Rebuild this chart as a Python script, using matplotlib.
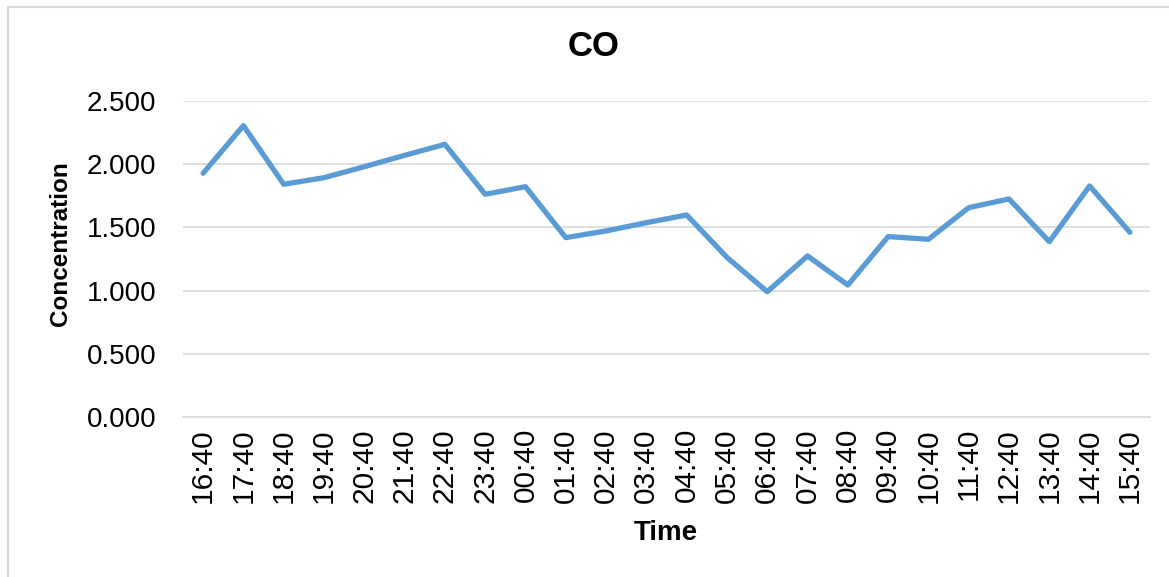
import matplotlib.pyplot as plt
from matplotlib.lines import Line2D

plt.rcParams['font.family'] = ['Liberation Sans', 'DejaVu Sans']

times = ['16:40', '17:40', '18:40', '19:40', '20:40', '21:40', '22:40', '23:40',
         '00:40', '01:40', '02:40', '03:40', '04:40', '05:40', '06:40', '07:40',
         '08:40', '09:40', '10:40', '11:40', '12:40', '13:40', '14:40', '15:40']
co = [1.928, 2.305, 1.841, 1.893, 1.980, 2.070, 2.157, 1.762,
      1.822, 1.419, 1.472, 1.537, 1.598, 1.263, 0.991, 1.274,
      1.044, 1.427, 1.406, 1.656, 1.725, 1.387, 1.828, 1.461]
yticks = [0.0, 0.5, 1.0, 1.5, 2.0, 2.5]

fig = plt.figure(figsize=(11.69, 5.77), dpi=100)
ax = fig.add_axes([0.1565, 0.2773, 0.8273, 0.5477])

x = list(range(len(times)))
ax.plot(x, co, color='#5B9BD5', linewidth=3.8,
        solid_joinstyle='round', solid_capstyle='round', zorder=3)

ax.set_xlim(-0.5, len(times) - 0.5)
ax.set_ylim(0, 2.5)
ax.set_yticks(yticks)
ax.set_yticklabels([f'{v:.3f}' for v in yticks], fontsize=20)
ax.set_xticks(x)
ax.set_xticklabels(times, rotation=90, fontsize=21.5)
ax.tick_params(axis='y', length=0, pad=19)
ax.tick_params(axis='x', length=0, pad=8)

ax.grid(axis='y', color='#D9D9D9', linewidth=1.2)
ax.set_axisbelow(True)
for side in ['top', 'right', 'left']:
    ax.spines[side].set_visible(False)
ax.spines['bottom'].set_color('#D9D9D9')
ax.spines['bottom'].set_linewidth(1.2)

fig.text(594 / 1169, 1 - 47 / 577, 'CO', fontsize=25, fontweight='bold',
         ha='center', va='center')
fig.text(666 / 1169, 1 - 533 / 577, 'Time', fontsize=20, fontweight='bold',
         ha='center', va='center')
fig.text(60 / 1169, 1 - 244 / 577, 'Concentration', fontsize=17.5,
         fontweight='bold', rotation=90, ha='center', va='center')

# chart area border (top and left edges)
fig.add_artist(Line2D([8 / 1169, 8 / 1169, 1.0], [0.0, 1 - 7 / 577, 1 - 7 / 577],
                      transform=fig.transFigure, color='#D9D9D9', linewidth=1.5))

fig.savefig('out.png', dpi=100)
